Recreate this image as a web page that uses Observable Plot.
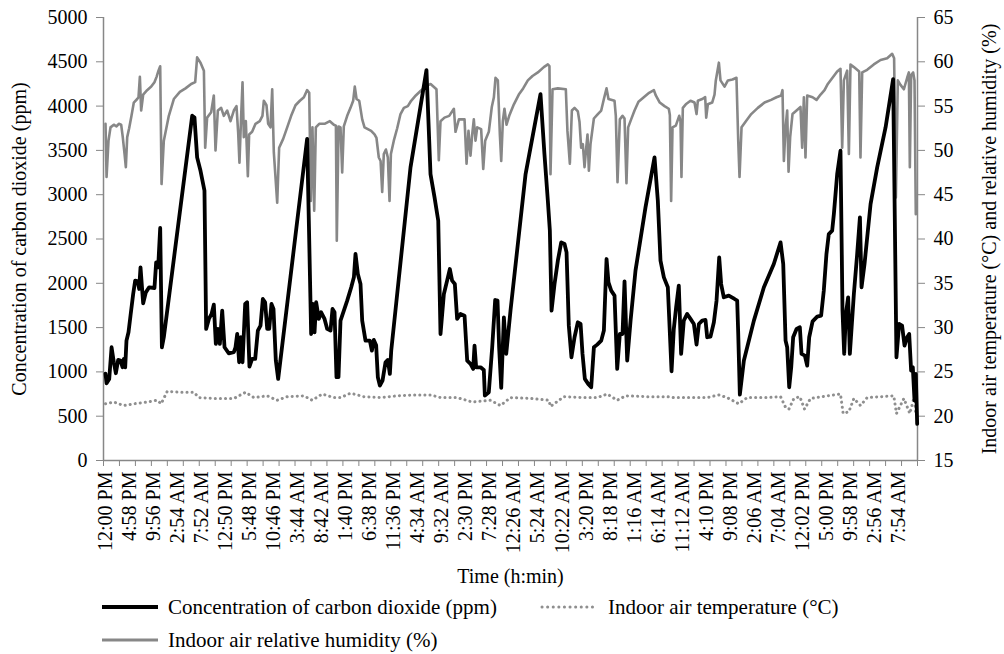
<!DOCTYPE html>
<html><head><meta charset="utf-8">
<script src="https://cdn.jsdelivr.net/npm/d3@7"></script>
<script src="https://cdn.jsdelivr.net/npm/@observablehq/plot@0.6"></script>
<style>
body{margin:0;background:#fff;font-family:"Liberation Serif","Times New Roman",serif;}
#legend{position:relative;height:62px;width:1004px;font-size:21px;color:#000;}
.item{position:absolute;display:flex;align-items:center;white-space:nowrap;height:24px;}
.item svg{margin-right:8px;}
</style></head><body><div id="chart"></div><div id="legend"></div>
<script>
// Category labels of the time axis (one every 298 minutes)
const xLabels = ["12:00 PM","4:58 PM","9:56 PM","2:54 AM","7:52 AM","12:50 PM","5:48 PM","10:46 PM","3:44 AM","8:42 AM","1:40 PM","6:38 PM","11:36 PM","4:34 AM","9:32 AM","2:30 PM","7:28 PM","12:26 AM","5:24 AM","10:22 AM","3:20 PM","8:18 PM","1:16 AM","6:14 AM","11:12 AM","4:10 PM","9:08 PM","2:06 AM","7:04 AM","12:02 PM","5:00 PM","9:58 PM","2:56 AM","7:54 AM"];
const labelStepMin = 298;
const leftTicks = [0,500,1000,1500,2000,2500,3000,3500,4000,4500,5000];
const rightTicks = [15,20,25,30,35,40,45,50,55,60,65];

// [minutes since 12:00 PM, CO2 ppm]
const co2Series = [[0,980],[13,872],[46,921],[75,1278],[103,1109],[128,985],[157,1135],[186,1128],[211,1052],[227,1146],[244,1052],[260,1353],[285,1447],[310,1635],[343,1880],[368,2030],[401,2022],[417,1936],[434,2180],[467,1774],[500,1898],[541,1955],[607,1947],[628,2237],[653,2180],[678,2624],[699,1278],[723,1391],[1075,3891],[1103,3872],[1136,3421],[1178,3270],[1227,3045],[1248,1485],[1282,1598],[1315,1654],[1343,1759],[1368,1316],[1393,1485],[1418,1316],[1447,1692],[1476,1278],[1529,1210],[1591,1222],[1612,1278],[1633,1428],[1657,1109],[1678,1391],[1699,1109],[1732,1767],[1756,1786],[1785,1060],[1818,1146],[1856,1146],[1889,1466],[1922,1522],[1951,1823],[1979,1786],[2005,1485],[2030,1485],[2058,1767],[2083,1710],[2112,1128],[2141,921],[2500,3630],[2550,1428],[2571,1767],[2592,1447],[2612,1786],[2645,1598],[2674,1673],[2716,1598],[2749,1485],[2790,1466],[2815,1710],[2840,1673],[2864,940],[2889,940],[2914,1579],[2997,1804],[3047,1955],[3080,2067],[3100,2331],[3129,2105],[3162,1992],[3183,1579],[3224,1353],[3278,1353],[3303,1240],[3327,1361],[3356,1300],[3377,940],[3402,846],[3435,902],[3472,1109],[3501,1135],[3526,977],[3543,1240],[3782,3308],[3980,4406],[4030,3233],[4080,2970],[4126,2706],[4154,1428],[4196,1880],[4236,2030],[4270,2161],[4298,2030],[4332,1992],[4360,1598],[4402,1654],[4452,1635],[4485,1128],[4526,1090],[4559,1034],[4576,1297],[4596,1052],[4651,1052],[4691,1022],[4704,733],[4753,771],[4795,1278],[4832,1812],[4861,1804],[4881,1278],[4907,819],[4940,1616],[4969,1203],[5022,1692],[5209,3233],[5394,4135],[5443,3458],[5485,2932],[5510,2594],[5531,1692],[5568,1992],[5609,2255],[5651,2462],[5692,2443],[5717,2349],[5745,1522],[5778,1165],[5816,1391],[5857,1560],[5891,1541],[5915,1203],[5944,921],[5985,865],[6023,827],[6056,1278],[6097,1308],[6147,1353],[6180,1466],[6213,2274],[6237,2011],[6271,1917],[6312,1861],[6345,1034],[6378,1428],[6411,1428],[6436,2022],[6469,1128],[6511,1579],[6572,2143],[6696,2857],[6808,3421],[6849,2932],[6882,2255],[6924,2067],[6973,1955],[7019,1007],[7047,1485],[7076,1729],[7109,1974],[7138,1203],[7171,1579],[7213,1654],[7254,1598],[7296,1541],[7329,1308],[7358,1541],[7399,1579],[7440,1586],[7461,1391],[7502,1398],[7544,1560],[7577,1804],[7610,2293],[7634,1992],[7667,1842],[7729,1861],[7800,1823],[7833,1804],[7846,1428],[7866,744],[7916,1128],[8040,1579],[8164,1955],[8287,2218],[8371,2462],[8404,2218],[8433,1353],[8453,1278],[8478,827],[8503,1052],[8527,1391],[8569,1485],[8610,1504],[8631,1203],[8672,1184],[8701,1071],[8726,1391],[8768,1571],[8825,1624],[8874,1635],[8907,1917],[8940,2331],[8969,2556],[9011,2594],[9032,2782],[9073,3233],[9114,3496],[9139,1692],[9160,1203],[9181,1654],[9209,1842],[9230,1203],[9280,1880],[9321,2331],[9355,2744],[9375,1955],[9412,2218],[9487,2894],[9569,3308],[9673,3759],[9767,4304],[9808,1165],[9841,1541],[9878,1522],[9908,1297],[9941,1391],[9966,1428],[9990,1015],[10011,1052],[10032,677],[10048,977],[10065,413]];

// [minutes, relative humidity %]
const humiditySeries = [[0,53.0],[13,47.0],[37,51.1],[62,52.6],[103,52.9],[136,52.7],[165,53.0],[194,52.9],[214,51.5],[236,49.6],[252,48.1],[269,51.5],[293,52.5],[322,53.9],[351,55.4],[393,55.8],[409,56.0],[426,58.3],[442,54.5],[467,56.3],[516,56.8],[567,57.2],[607,57.7],[633,58.3],[657,59.0],[678,59.5],[695,46.2],[723,51.1],[785,53.9],[847,55.8],[922,56.6],[992,57.0],[1062,57.5],[1112,57.7],[1136,60.5],[1178,59.9],[1220,59.0],[1236,50.3],[1260,53.7],[1310,54.3],[1343,56.2],[1364,50.0],[1393,54.5],[1434,54.8],[1467,53.9],[1509,54.5],[1550,53.3],[1591,54.5],[1624,55.0],[1645,52.0],[1661,48.6],[1682,53.9],[1699,57.7],[1715,51.5],[1740,53.3],[1765,47.1],[1781,51.8],[1818,52.1],[1860,53.0],[1913,53.3],[1946,53.9],[1963,55.6],[1996,55.1],[2017,53.0],[2046,52.6],[2067,56.9],[2087,49.8],[2129,44.1],[2153,50.3],[2203,51.3],[2253,52.6],[2302,53.9],[2356,55.1],[2410,55.6],[2460,56.0],[2500,56.8],[2526,56.5],[2546,44.3],[2566,52.6],[2588,43.2],[2608,52.6],[2650,53.0],[2716,53.0],[2782,53.3],[2831,52.9],[2857,52.8],[2868,39.8],[2890,52.7],[2914,52.6],[2935,47.5],[2955,52.7],[2997,53.9],[3038,54.8],[3071,55.6],[3091,57.2],[3113,55.8],[3146,55.6],[3183,53.5],[3212,52.6],[3253,52.4],[3294,52.2],[3336,51.8],[3360,51.4],[3389,49.2],[3411,48.8],[3431,45.3],[3451,49.6],[3477,50.1],[3501,49.2],[3522,44.3],[3539,49.6],[3575,51.1],[3617,52.5],[3658,54.1],[3700,54.8],[3749,55.0],[3790,55.6],[3848,56.2],[3906,56.7],[3968,57.2],[4031,57.5],[4104,56.9],[4133,48.9],[4154,53.3],[4203,53.7],[4262,53.9],[4320,54.7],[4340,52.1],[4382,53.5],[4452,53.5],[4477,48.5],[4501,52.2],[4526,49.4],[4547,51.8],[4567,53.5],[4588,51.1],[4609,52.6],[4658,52.4],[4684,47.9],[4708,51.1],[4753,52.1],[4790,54.9],[4816,56.0],[4836,58.2],[4865,57.9],[4890,51.8],[4907,48.8],[4927,53.3],[4947,54.7],[4973,52.9],[5006,53.9],[5064,55.2],[5125,56.3],[5179,57.0],[5237,57.9],[5295,58.4],[5361,58.8],[5435,59.4],[5485,59.7],[5505,59.5],[5518,47.3],[5543,56.9],[5609,57.0],[5708,56.9],[5728,52.2],[5758,48.5],[5783,54.5],[5816,54.8],[5857,54.4],[5878,53.2],[5898,50.3],[5919,50.7],[5940,48.1],[5961,50.3],[5977,51.8],[5994,47.7],[6014,50.7],[6056,53.6],[6105,54.1],[6147,54.5],[6180,55.8],[6213,57.0],[6237,55.8],[6312,55.6],[6328,53.9],[6349,46.4],[6378,53.5],[6411,53.9],[6436,53.6],[6460,46.3],[6481,52.6],[6518,53.5],[6560,54.5],[6609,55.5],[6675,56.0],[6741,56.5],[6800,56.8],[6824,56.2],[6873,55.4],[6932,55.0],[6985,54.7],[6998,54.0],[7014,44.3],[7031,52.6],[7072,52.8],[7114,53.9],[7130,53.3],[7142,47.0],[7159,54.8],[7196,55.2],[7254,55.6],[7304,55.4],[7329,54.1],[7345,55.6],[7399,55.8],[7436,56.0],[7449,53.7],[7469,55.2],[7523,55.4],[7552,56.3],[7568,57.9],[7606,59.9],[7626,57.9],[7676,57.2],[7718,57.9],[7775,58.0],[7824,58.2],[7846,51.1],[7862,47.0],[7887,52.6],[7941,53.3],[8007,54.1],[8089,54.8],[8172,55.4],[8254,55.7],[8320,56.0],[8378,56.2],[8395,56.8],[8412,48.8],[8433,52.6],[8453,54.5],[8470,47.6],[8490,51.5],[8519,54.1],[8569,54.5],[8618,54.9],[8639,50.3],[8660,56.0],[8680,49.2],[8701,56.2],[8768,56.0],[8817,55.7],[8867,56.3],[8916,56.8],[8957,57.5],[9015,58.2],[9073,58.9],[9114,59.2],[9135,50.3],[9156,57.9],[9197,59.0],[9218,49.6],[9238,59.7],[9280,59.4],[9346,58.9],[9362,49.2],[9383,58.8],[9445,59.1],[9527,59.7],[9611,60.2],[9693,60.4],[9755,60.9],[9779,60.4],[9801,44.7],[9825,57.9],[9858,57.4],[9900,56.9],[9941,58.2],[9962,58.8],[9974,48.1],[9990,58.5],[10015,58.8],[10032,57.9],[10048,42.8]];

// [minutes, indoor air temperature °C]
const temperatureSeries = [[0,21.4],[103,21.6],[227,21.2],[351,21.4],[516,21.6],[640,21.8],[690,21.4],[765,22.8],[930,22.7],[1095,22.7],[1158,22.1],[1343,22.0],[1591,22.0],[1736,22.7],[1840,22.1],[2005,22.3],[2129,21.8],[2253,22.2],[2460,22.3],[2563,21.8],[2687,22.5],[2831,22.1],[2914,22.1],[3038,22.6],[3204,22.2],[3411,22.1],[3617,22.3],[3824,22.4],[4031,22.4],[4154,22.1],[4360,22.1],[4547,21.6],[4774,21.8],[4898,21.2],[5022,22.1],[5271,22.0],[5498,21.8],[5518,21.1],[5684,22.2],[5931,22.1],[6097,22.1],[6222,22.5],[6345,21.8],[6449,22.3],[6717,22.2],[6965,22.2],[7047,22.1],[7130,22.1],[7296,22.1],[7461,22.1],[7606,22.4],[7709,22.1],[7853,21.4],[7957,22.1],[8205,22.1],[8371,22.2],[8433,21.0],[8474,20.8],[8536,22.0],[8610,22.2],[8668,20.8],[8742,22.0],[8949,22.3],[9114,22.5],[9147,20.3],[9218,20.5],[9280,22.0],[9362,21.2],[9445,22.1],[9611,22.2],[9775,22.3],[9808,20.3],[9900,22.0],[9974,20.3],[10032,22.3],[10048,20.1]];

const font = '"Liberation Serif","Times New Roman",serif';
const axisGray = "#878787";
const humColor = "#878787";
const tempColor = "#8f8f8f";
const xDomain = [-25, 10069];
const minorTickCount = 51;
// right axis (15–65) shares the frame with the left axis (0–5000)
const toLeft = r => (r - 15) * 100;

const co2 = co2Series.map(([t, v]) => ({t, v}));
const hum = humiditySeries.map(([t, v]) => ({t, v: toLeft(v)}));
const temp = temperatureSeries.map(([t, v]) => ({t, v: toLeft(v)}));
const minorTicks = d3.range(minorTickCount + 1).map(i => xDomain[0] + i * (xDomain[1] - xDomain[0]) / minorTickCount);

const chart = Plot.plot({
  width: 1004, height: 592,
  marginLeft: 103, marginRight: 87, marginTop: 17, marginBottom: 132,
  style: {fontFamily: font, fontSize: "20px", color: "black", background: "white", overflow: "visible"},
  x: {domain: xDomain},
  y: {domain: [0, 5000]},
  marks: [
    Plot.axisY({anchor: "left", ticks: leftTicks, tickFormat: d => String(d), tickSize: 7, tickPadding: 9, stroke: axisGray, fill: "black", fontSize: 20,
      label: "Concentration of carbon dioxide (ppm)", labelArrow: "none", labelAnchor: "center", labelOffset: 92}),
    Plot.axisY({anchor: "right", ticks: rightTicks.map(toLeft), tickFormat: d => String(Math.round(d / 100 + 15)), tickSize: 7, tickPadding: 9,
      stroke: axisGray, fill: "black", fontSize: 20,
      label: "Indoor air temperature (°C) and relative humidity (%)", labelArrow: "none", labelAnchor: "center", labelOffset: 78}),
    Plot.axisX({ticks: minorTicks, tickFormat: () => "", tickSize: 6, stroke: axisGray, label: null}),
    Plot.axisX({ticks: xLabels.map((_, i) => i * labelStepMin), tickFormat: d => xLabels[Math.round(d / labelStepMin)],
      tickRotate: -90, tickSize: 0, tickPadding: 11, fill: "black", fontSize: 20,
      label: "Time (h:min)", labelArrow: "none", labelAnchor: "center", labelOffset: 122}),
    Plot.ruleY([0], {stroke: axisGray, strokeWidth: 1.5}),
    Plot.ruleX([xDomain[0]], {stroke: axisGray, strokeWidth: 1.5}),
    Plot.ruleX([xDomain[1]], {stroke: axisGray, strokeWidth: 1.5}),
    Plot.line(hum, {x: "t", y: "v", stroke: humColor, strokeWidth: 2.6, strokeLinejoin: "round"}),
    Plot.line(temp, {x: "t", y: "v", stroke: tempColor, strokeWidth: 3, strokeDasharray: "0.1 5", strokeLinecap: "round"}),
    Plot.line(co2, {x: "t", y: "v", stroke: "black", strokeWidth: 3.8, strokeLinejoin: "round"})
  ]
});
document.getElementById("chart").appendChild(chart);

// Legend
const legendItems = [
  {label: "Concentration of carbon dioxide (ppm)", color: "black", width: 4, dash: null, left: 100, top: 3},
  {label: "Indoor air temperature (°C)", color: tempColor, width: 3, dash: "0.1 5.5", left: 540, top: 3},
  {label: "Indoor air relative humidity (%)", color: humColor, width: 3, dash: null, left: 100, top: 36}
];
const legend = document.getElementById("legend");
for (const it of legendItems) {
  const div = document.createElement("div");
  div.className = "item";
  div.style.left = it.left + "px";
  div.style.top = it.top + "px";
  div.innerHTML = `<svg width="60" height="10"><line x1="2" x2="58" y1="5" y2="5" stroke="${it.color}" stroke-width="${it.width}" ${it.dash ? `stroke-dasharray="${it.dash}" stroke-linecap="round"` : ""}/></svg><span>${it.label}</span>`;
  legend.appendChild(div);
}
</script>
</body></html>
